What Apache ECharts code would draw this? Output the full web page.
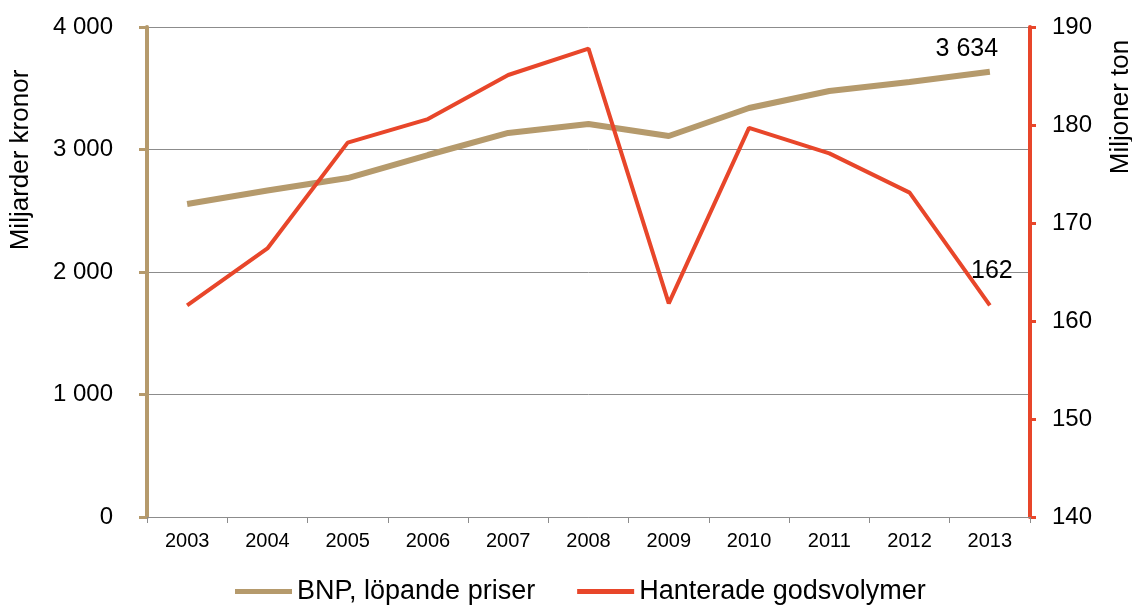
<!DOCTYPE html>
<html>
<head>
<meta charset="utf-8">
<script src="https://cdn.jsdelivr.net/npm/echarts@6/dist/echarts.min.js"></script>
<style>
  html, body { margin: 0; padding: 0; background: #fff; }
  #chart { width: 1132px; height: 605px; }
</style>
</head>
<body>
<div id="chart"></div>
<script>
  const years = ['2003', '2004', '2005', '2006', '2007', '2008', '2009', '2010', '2011', '2012', '2013']
  const bnp = [2555, 2665, 2767, 2955, 3135, 3208, 3110, 3339, 3478, 3551, 3634]
  const gods = [161.6, 167.4, 178.2, 180.6, 185.1, 187.8, 161.8, 179.7, 177.1, 173.1, 161.6]
  const seriesNames = ['BNP, löpande priser', 'Hanterade godsvolymer']
  const axisNames = ['Miljarder kronor', 'Miljoner ton']

  const font = '"Liberation Sans", Arial, sans-serif'
  const tan = '#b59a6c'
  const red = '#e8462a'
  const grey = '#8c8c8c'

  const spaced = v => String(v).replace(/\B(?=(\d{3})+(?!\d))/g, ' ')

  // only the last point carries a value label
  const withEndLabel = (arr, offset) =>
    arr.map((v, i) => i === arr.length - 1
      ? { value: v, label: { show: true, offset } }
      : v)

  const chart = echarts.init(document.getElementById('chart'))
  chart.setOption({
    animation: false,
    textStyle: { fontFamily: font },
    grid: { left: 147, right: 102, top: 27, bottom: 88, outerBoundsMode: 'none', containLabel: false },
    legend: {
      top: 573,
      left: 230,
      itemWidth: 57,
      itemHeight: 5,
      itemGap: 42,
      icon: 'rect',
      textStyle: { fontSize: 27, color: '#000', fontFamily: font },
      data: seriesNames
    },
    xAxis: {
      type: 'category',
      data: years,
      boundaryGap: true,
      axisLine: { lineStyle: { color: grey, width: 1 } },
      axisTick: { show: true, length: 6, lineStyle: { color: grey } },
      axisLabel: { fontSize: 20, color: '#000', margin: 14, fontFamily: font }
    },
    yAxis: [
      {
        type: 'value',
        min: 0,
        max: 4000,
        interval: 1000,
        name: axisNames[0],
        nameLocation: 'middle',
        nameRotate: 90,
        nameGap: 113,
        nameTextStyle: { fontSize: 26, color: '#000', fontFamily: font, padding: [0, 0, 0, 224] },
        axisLine: { show: true, lineStyle: { color: tan, width: 4 } },
        axisTick: { show: true, length: 8, lineStyle: { color: tan, width: 3 } },
        axisLabel: { fontSize: 24, color: '#000', margin: 34, formatter: spaced, fontFamily: font },
        splitLine: { show: true, lineStyle: { color: grey, width: 1 } }
      },
      {
        type: 'value',
        min: 140,
        max: 190,
        interval: 10,
        position: 'right',
        name: axisNames[1],
        nameLocation: 'middle',
        nameRotate: 90,
        nameGap: 78,
        nameTextStyle: { fontSize: 26, color: '#000', fontFamily: font, padding: [0, 0, 0, 330] },
        axisLine: { show: true, lineStyle: { color: red, width: 4 } },
        axisTick: { show: true, length: 6, lineStyle: { color: red, width: 3 } },
        axisLabel: { fontSize: 24, color: '#000', margin: 22, fontFamily: font },
        splitLine: { show: false }
      }
    ],
    series: [
      {
        name: seriesNames[0],
        type: 'line',
        yAxisIndex: 0,
        data: withEndLabel(bnp, [-23, -5]),
        symbol: 'circle',
        symbolSize: 0,
        showSymbol: true,
        lineStyle: { color: tan, width: 6 },
        itemStyle: { color: tan },
        label: { show: false, position: 'top', fontSize: 25, color: '#000', formatter: p => spaced(p.value), fontFamily: font },
        z: 3
      },
      {
        name: seriesNames[1],
        type: 'line',
        yAxisIndex: 1,
        data: withEndLabel(gods, [2, -17]),
        symbol: 'circle',
        symbolSize: 0,
        showSymbol: true,
        lineStyle: { color: red, width: 4 },
        itemStyle: { color: red },
        label: { show: false, position: 'top', fontSize: 25, color: '#000', formatter: p => Math.round(p.value), fontFamily: font },
        z: 4
      }
    ]
  })
</script>
</body>
</html>
